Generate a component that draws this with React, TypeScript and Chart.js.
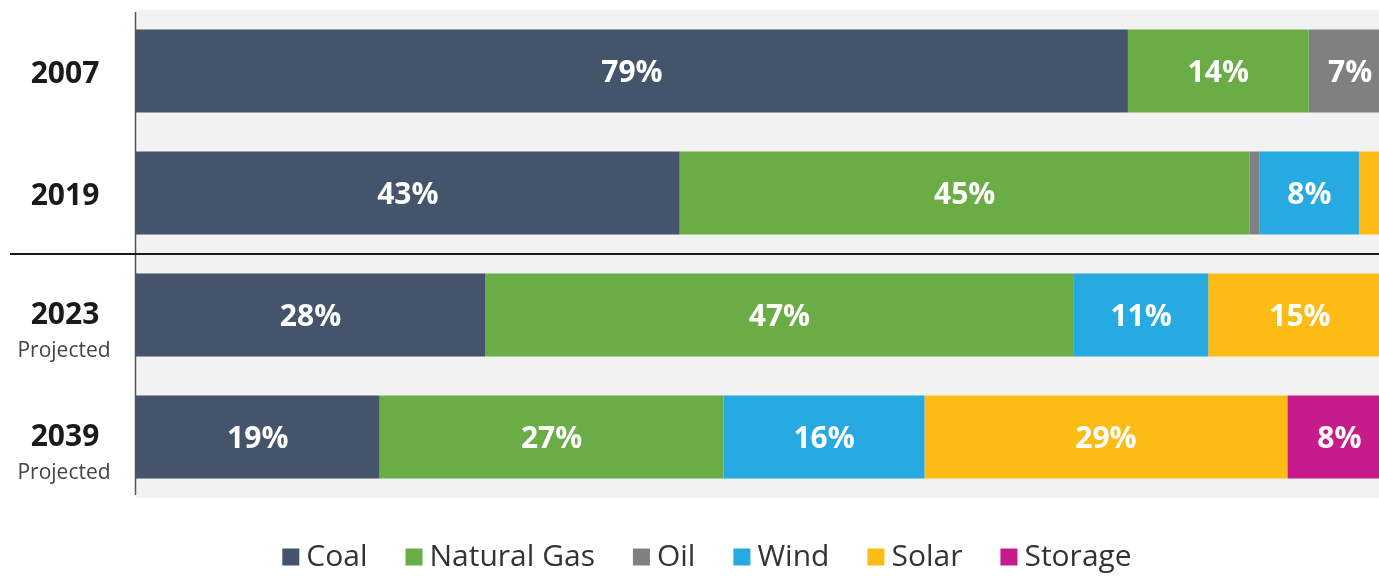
import React, { useEffect, useRef } from "react";
import { Chart, registerables } from "chart.js";

Chart.register(...registerables);

const years = ["2007", "2019", "2023", "2039"];
const subLabels = ["", "", "Projected", "Projected"];

const coal = [79, 43.3, 27.8, 19.4];
const naturalGas = [14.4, 45.4, 46.9, 27.4];
const oil = [6.6, 0.8, 0, 0];
const wind = [0, 7.9, 10.7, 16.0];
const solar = [0, 2.6, 14.6, 28.9];
const storage = [0, 0, 0, 8.3];

const seriesNames = ["Coal", "Natural Gas", "Oil", "Wind", "Solar", "Storage"];
const seriesColors = ["#44546a", "#6aad46", "#808080", "#27a9e1", "#fcbb15", "#c81b8b"];

const FONT = "'Open Sans', 'Liberation Sans', sans-serif";

const customPlugin = {
  id: "custom",
  beforeDraw(chart: any) {
    const { ctx, chartArea, width, height } = chart;
    ctx.save();
    ctx.fillStyle = "#ffffff";
    ctx.fillRect(0, 0, width, height);
    ctx.fillStyle = "#f2f2f3";
    ctx.fillRect(chartArea.left, chartArea.top, chartArea.right - chartArea.left, chartArea.bottom - chartArea.top);
    ctx.restore();
  },
  afterDatasetsDraw(chart: any) {
    const { ctx, chartArea, width } = chart;
    const yScale = chart.scales.y;
    ctx.save();

    // value labels
    ctx.font = `bold 30px ${FONT}`;
    ctx.fillStyle = "#ffffff";
    ctx.textAlign = "center";
    ctx.textBaseline = "middle";
    chart.data.datasets.forEach((ds: any, di: number) => {
      const meta = chart.getDatasetMeta(di);
      meta.data.forEach((bar: any, i: number) => {
        const v = ds.data[i];
        if (v >= 5) {
          const cx = (bar.x + bar.base) / 2;
          ctx.fillText(`${Math.round(v)}%`, cx, bar.y + 2);
        }
      });
    });

    // vertical axis line
    ctx.strokeStyle = "#555555";
    ctx.lineWidth = 1.5;
    ctx.beginPath();
    ctx.moveTo(chartArea.left - 0.5, chartArea.top + 2);
    ctx.lineTo(chartArea.left - 0.5, chartArea.bottom - 3);
    ctx.stroke();

    // separator between historical and projected
    const sepY = (yScale.getPixelForValue(1) + yScale.getPixelForValue(2)) / 2;
    ctx.strokeStyle = "#1a1a1a";
    ctx.lineWidth = 2;
    ctx.beginPath();
    ctx.moveTo(10, sepY);
    ctx.lineTo(width, sepY);
    ctx.stroke();

    // row labels
    years.forEach((yr, i) => {
      const cy = yScale.getPixelForValue(i);
      ctx.textAlign = "center";
      ctx.textBaseline = "middle";
      ctx.fillStyle = "#1a1a1a";
      ctx.font = `bold 30px ${FONT}`;
      if (subLabels[i]) {
        ctx.fillText(yr, 65, cy);
        ctx.font = `21px ${FONT}`;
        ctx.fillStyle = "#444444";
        ctx.fillText(subLabels[i], 64, cy + 36);
      } else {
        ctx.fillText(yr, 65, cy + 3);
      }
    });

    // legend
    ctx.font = `30px ${FONT}`;
    ctx.textBaseline = "middle";
    ctx.textAlign = "left";
    const box = 17;
    const gapBoxText = 7;
    const gapItems = 38;
    const items = chart.data.datasets.map((ds: any) => ({
      label: ds.label,
      color: ds.backgroundColor,
      w: ctx.measureText(ds.label).width,
    }));
    const total = items.reduce((s: number, it: any) => s + box + gapBoxText + it.w, 0) + gapItems * (items.length - 1);
    let x = 707 - total / 2;
    const ly = 557;
    items.forEach((it: any) => {
      ctx.fillStyle = it.color;
      ctx.fillRect(x, ly - box / 2, box, box);
      x += box + gapBoxText;
      ctx.fillStyle = "#333333";
      ctx.fillText(it.label, x, ly);
      x += it.w + gapItems;
    });

    ctx.restore();
  },
};

export default function App() {
  const canvasRef = useRef<HTMLCanvasElement | null>(null);

  useEffect(() => {
    if (!canvasRef.current) return;
    const seriesData = [coal, naturalGas, oil, wind, solar, storage];
    const chart = new Chart(canvasRef.current, {
      type: "bar",
      data: {
        labels: years,
        datasets: seriesData.map((d, i) => ({
          label: seriesNames[i],
          data: d,
          backgroundColor: seriesColors[i],
          borderWidth: 0,
          categoryPercentage: 1,
          barPercentage: 0.68,
        })),
      },
      options: {
        indexAxis: "y",
        responsive: false,
        animation: false,
        layout: { padding: { left: 136, right: 0, top: 10, bottom: 78 } },
        scales: {
          x: { stacked: true, min: 0, max: 99, display: false },
          y: { stacked: true, display: false },
        },
        plugins: {
          legend: { display: false },
          tooltip: { enabled: false },
          title: { display: false },
        },
      },
      plugins: [customPlugin],
    });
    return () => chart.destroy();
  }, []);

  return (
    <div style={{ position: "absolute", left: 0, top: 0, width: 1379, height: 576, overflow: "hidden" }}>
      <canvas ref={canvasRef} width={1379} height={576} style={{ display: "block" }} />
    </div>
  );
}
